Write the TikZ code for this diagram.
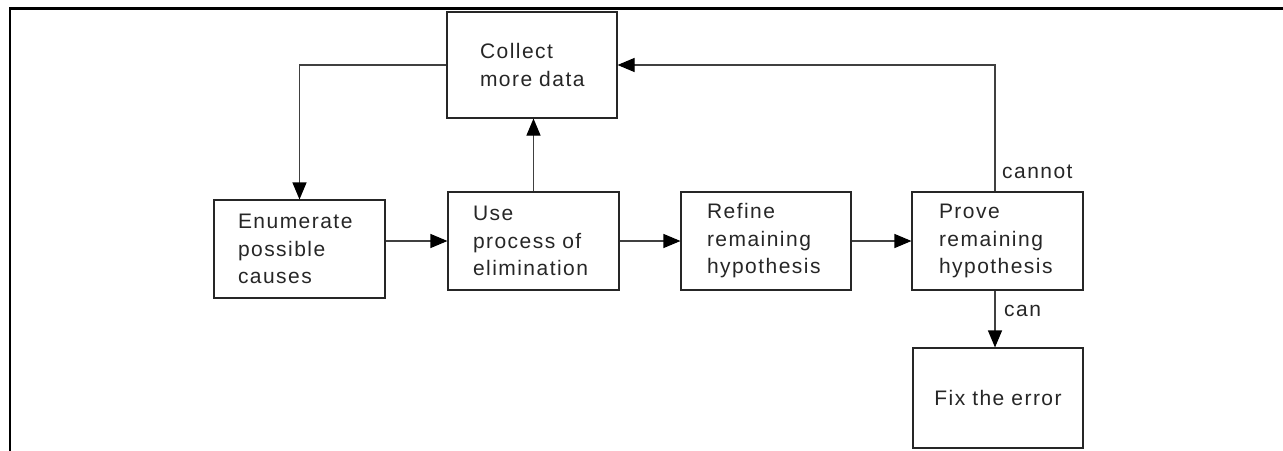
\documentclass[tikz,border=0pt]{standalone}
\usepackage{fontspec}
\setmainfont{Liberation Sans}[LetterSpace=7]
\usetikzlibrary{arrows.meta}
\tikzset{
  stepbox/.style={draw=black!85, line width=1.1pt, minimum height=98pt,
    minimum width=171pt, align=left, inner ysep=0pt,
    font=\fontsize{21}{27.5}\selectfont, text=black!85},
  flow/.style={draw=black!75, line width=1.1pt,
    -{Triangle[length=17pt,width=14pt,color=black]}},
  lbl/.style={anchor=base west, inner sep=0pt,
    font=\fontsize{21}{27.5}\selectfont, text=black!85}
}
\begin{document}
\begin{tikzpicture}[x=1pt,y=-1pt]
  \useasboundingbox (0,0) rectangle (1283,450);
  % page frame: top and left rules
  \draw[line width=2.6pt] (10,451) -- (10,8.5) -- (1284,8.5);

  % process steps
  \node[stepbox, minimum height=106pt, minimum width=170pt, inner xsep=33pt,
        text width=104pt] (collect) at (532,65) {Collect\\more~data};
  \node[stepbox, inner xsep=24pt, text width=123pt] (enum) at (299.5,249)
        {Enumerate\\possible\\causes};
  \node[stepbox, inner xsep=25pt, text width=121pt] (use) at (533.5,241)
        {Use\\process~of\\elimination};
  \node[stepbox, minimum width=170pt, inner xsep=26pt, text width=118pt] (refine)
        at (766,241) {Refine\\remaining\\hypothesis};
  \node[stepbox, inner xsep=27pt, text width=117pt] (prove) at (997.5,241)
        {Prove\\remaining\\hypothesis};
  \node[stepbox, minimum height=100pt, minimum width=170pt, align=center,
        text width=150pt] (fix) at (998,398) {Fix~the~error};

  % branch labels
  \node[lbl] (cannot) at (1002,178) {cannot};
  \node[lbl] (can) at (1004,316) {can};

  % connectors
  \coordinate (branch) at (995,65);
  \draw[flow] (collect.west) -| (enum.north);
  \draw[flow] (use.west -| enum.east) -- (use.west);
  \draw[flow] (use.north) -- (use.north |- collect.south);
  \draw[flow] (use.east) -- (refine.west);
  \draw[flow] (refine.east) -- (prove.west);
  \draw[flow] (prove.north -| branch) |- (collect.east);
  \draw[flow] (prove.south -| branch) -- (fix.north -| branch);
\end{tikzpicture}
\end{document}
